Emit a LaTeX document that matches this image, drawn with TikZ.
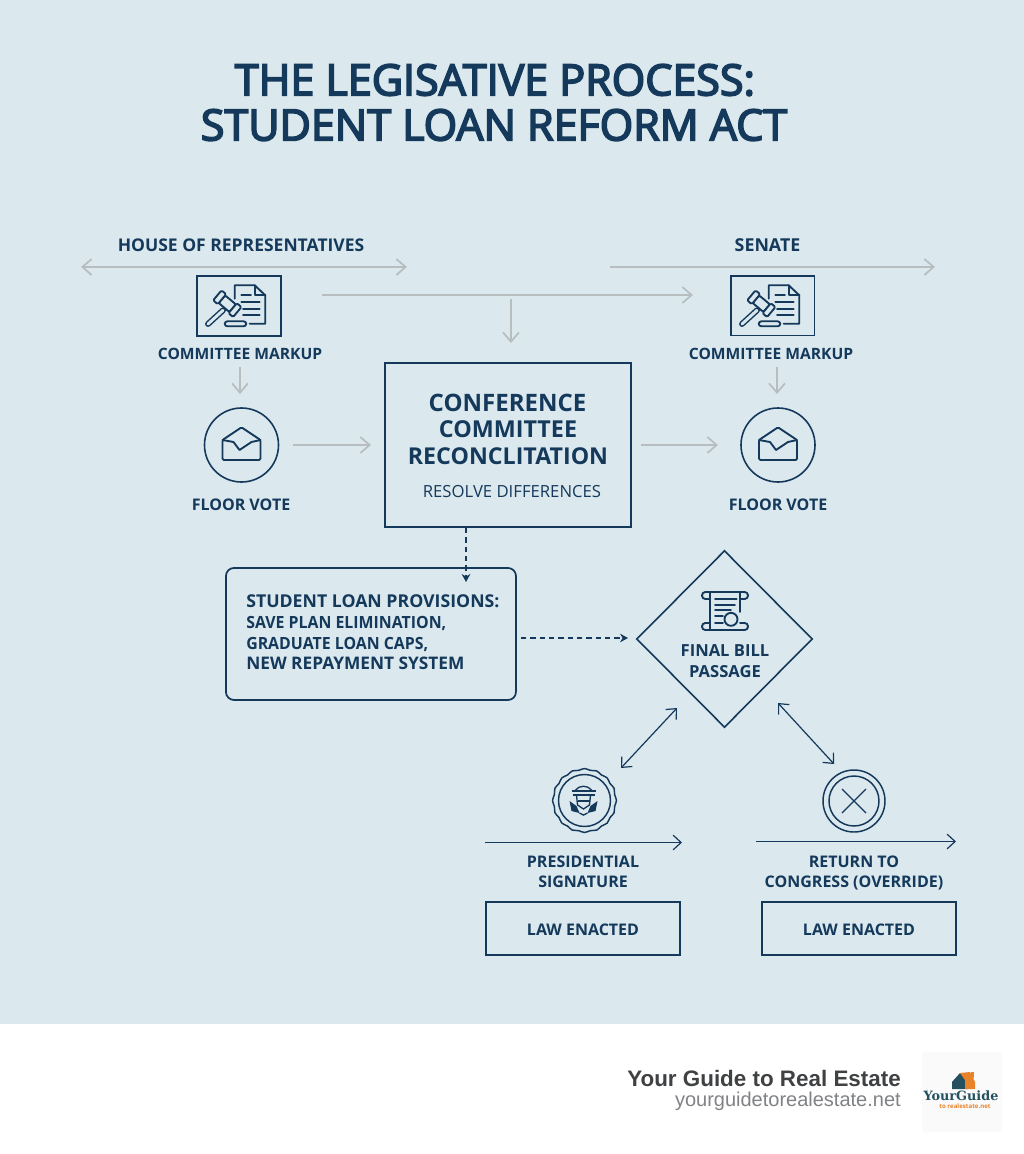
\documentclass[tikz,border=0pt]{standalone}
\usepackage{fontspec}
\usetikzlibrary{arrows.meta,shapes.geometric}
\setmainfont{Open Sans}
\newfontfamily\titlefont[FakeBold=4]{Open Sans}
\newfontfamily\footfont{Liberation Sans}
\newfontfamily\logofont{DejaVu Serif}
\definecolor{bgblue}{HTML}{DBE8EE}
\definecolor{navy}{HTML}{14395B}
\definecolor{linegray}{HTML}{B8BEC0}
\definecolor{footdark}{HTML}{3F4143}
\definecolor{footgray}{HTML}{808285}
\definecolor{logoorange}{HTML}{E8832A}
\definecolor{logonavy}{HTML}{24505F}
\newcommand{\pxfont}[1]{\fontsize{\the\dimexpr#1pt*3/4\relax}{\the\dimexpr#1pt*9/10\relax}\selectfont}
\tikzset{
 x=0.75pt,y=-0.75pt,
 icon/.style={draw=navy,line width=1.4pt,line join=round,line cap=round},
 greyarrow/.style={draw=linegray,line width=1.3pt,-{Straight Barb[length=7pt,width=12pt,line width=1.3pt]}},
 greyboth/.style={draw=linegray,line width=1.3pt,{Straight Barb[length=7pt,width=12pt,line width=1.3pt]}-{Straight Barb[length=7pt,width=12pt,line width=1.3pt]}},
 navyarrow/.style={draw=navy,line width=0.9pt,-{Straight Barb[length=6pt,width=11pt,line width=0.9pt]}},
 navyboth/.style={draw=navy,line width=0.9pt,{Straight Barb[length=6pt,width=11pt,line width=0.9pt]}-{Straight Barb[length=6pt,width=11pt,line width=0.9pt]}},
 dasharrow/.style={draw=navy,line width=0.9pt,dash pattern=on 4pt off 3pt,-{Stealth[length=6pt,width=6.5pt]}},
 label/.style={text=navy,font=\bfseries\pxfont{16},align=center,inner sep=0pt},
 wide/.style={text=navy,font=\bfseries\pxfont{#1},inner sep=0pt},
 provline/.style={text=navy,font=\bfseries\pxfont{#1},inner sep=0pt,anchor=base west},
 provnarrow/.style={text=navy,font=\bfseries\addfontfeature{FakeStretch=0.945}\pxfont{16.8},inner sep=0pt,anchor=base west},
 boxed/.style={draw=navy,line width=1.3pt,inner sep=0pt,anchor=north west},
}
\newcommand{\gavelicon}[2]{%
 \begin{scope}[shift={(#1,#2)}]
  \draw[icon] (37.7,22.7)--(37.7,9.3)--(57.7,9.3)--(68.3,19.3)--(68.3,47.7)--(52.7,47.7);
  \draw[icon] (57.7,9.3)--(57.7,19.3)--(68.3,19.3);
  \draw[icon] (44.3,19.3)--(54,19.3) (44.3,26)--(62.7,26) (46,32.7)--(62.7,32.7) (46,39.3)--(62.7,39.3);
  \draw[navy,line width=4.4pt,line cap=round] (26,34.3)--(11,48);
  \draw[bgblue,line width=2.2pt,line cap=round] (26,34.3)--(11,48);
  \begin{scope}[shift={(30.3,27.7)},rotate=-40]
   \draw[icon,fill=bgblue,rounded corners=1pt] (-7,-5)rectangle(7,5);
   \draw[icon,fill=bgblue,rounded corners=1pt] (-13,-6.5)rectangle(-7,6.5);
   \draw[icon,fill=bgblue,rounded corners=1pt] (7,-6.5)rectangle(13,6.5);
  \end{scope}
  \draw[icon,rounded corners=2pt] (27.7,45.3)rectangle(49.3,50.3);
 \end{scope}}
\newcommand{\envelopeicon}[2]{%
 \begin{scope}[shift={(#1,#2)}]
  \draw[icon,rounded corners=1pt] (-19,-5)--(0,-17.7)--(19,-5)--(19,15)--(-19,15)--cycle;
  \draw[icon] (-19,-5)--(-8,-3)--(-2,5)--(10,-3)--(19,-5);
 \end{scope}}
\begin{document}
\begin{tikzpicture}
\useasboundingbox (0,0) rectangle (1024,1154);
\fill[white] (0,0) rectangle (1024,1154);
\fill[bgblue] (0,0) rectangle (1024,1024);
% title
\node[text=navy,font=\titlefont\pxfont{43},inner sep=0pt,anchor=center] (t1) at (495,80) {THE LEGISATIVE PROCESS:};
\node[text=navy,font=\titlefont\pxfont{43},inner sep=0pt,anchor=center] (t2) at (494,125) {STUDENT LOAN REFORM ACT};
% headers
\node[wide=17.5] (house) at (241,245.5) {HOUSE OF REPRESENTATIVES};
\node[wide=17.8] (senate) at (767.5,245.5) {SENATE};
\coordinate (hl) at (81,267); \coordinate (hr) at (407,267);
\coordinate (sl) at (610,267); \coordinate (sr) at (935,267);
\draw[greyboth] (hl)--(hr);
\draw[greyarrow] (sl)--(sr);
% committee boxes
\node[boxed,minimum width=84*0.75pt,minimum height=60*0.75pt] (boxL) at (196.4,274.8) {};
\node[boxed,minimum width=83.7*0.75pt,minimum height=59.7*0.75pt] (boxR) at (729.8,274.8) {};
\gavelicon{197}{276}
\gavelicon{731}{276}
\node[wide=15.6] (cmL) at (240,354) {COMMITTEE MARKUP};
\node[wide=15.6] (cmR) at (771,354) {COMMITTEE MARKUP};
\node[circle,draw=navy,line width=1.2pt,minimum size=74*0.75pt,inner sep=0pt] (voteL) at (241.5,445) {};
\node[circle,draw=navy,line width=1.2pt,minimum size=74*0.75pt,inner sep=0pt] (voteR) at (778,445) {};
\envelopeicon{241.5}{445}
\envelopeicon{778}{445}
\node[label] (fvL) at (241,505) {FLOOR VOTE};
\node[label] (fvR) at (778,505) {FLOOR VOTE};
% center
\node[boxed,minimum width=245.4*0.75pt,minimum height=164*0.75pt] (conf) at (384.4,362.4) {};
\node[wide=24] (conf1) at (507.5,403) {CONFERENCE};
\node[wide=23.3] (conf2) at (508,429.5) {COMMITTEE};
\node[wide=23.2] (conf3) at (508,456) {RECONCLITATION};
\node[text=navy,font=\pxfont{16.7},inner sep=0pt] (res) at (512,491.5) {RESOLVE DIFFERENCES};
% gray connectors
\coordinate (c1a) at (322,295); \coordinate (c1b) at (693,295);
\draw[greyarrow] (c1a)--(c1b);
\coordinate (c2a) at (511,299); \coordinate (c2b) at (511,343);
\draw[greyarrow] (c2a)--(c2b);
\coordinate (c3a) at (240,367); \coordinate (c3b) at (240,394);
\draw[greyarrow] (c3a)--(c3b);
\coordinate (c4a) at (777,367); \coordinate (c4b) at (777,394);
\draw[greyarrow] (c4a)--(c4b);
\coordinate (c5a) at (293,445); \coordinate (c5b) at (371,445);
\draw[greyarrow] (c5a)--(c5b);
\coordinate (c6a) at (641,445); \coordinate (c6b) at (718,445);
\draw[greyarrow] (c6a)--(c6b);
% provisions
\node[draw=navy,line width=1.3pt,rounded corners=6pt,minimum width=290*0.75pt,minimum height=132*0.75pt,inner sep=0pt,anchor=north west] (prov) at (225.1,567.1) {};
\node[provline=17.7] (p1) at (246,607.5) {STUDENT LOAN PROVISIONS:};
\node[provnarrow] (p2) at (246,628) {SAVE PLAN ELIMINATION,};
\node[provnarrow] (p3) at (246,649) {GRADUATE LOAN CAPS,};
\node[provline=17.3] (p4) at (246,669.5) {NEW REPAYMENT SYSTEM};
\coordinate (d1a) at (466,528); \coordinate (d1b) at (466,582);
\draw[dasharrow] (d1a)--(d1b);
\coordinate (d2a) at (521,638); \coordinate (d2b) at (628,638);
\draw[dasharrow] (d2a)--(d2b);
% diamond
\node[diamond,draw=navy,line width=1.2pt,aspect=1,minimum width=176*0.75pt,minimum height=177*0.75pt,inner sep=0pt] (final) at (724.5,639) {};
\node[wide=16.6] (final1) at (725,651) {FINAL BILL};
\node[wide=16.6] (final2) at (725,672) {PASSAGE};
\begin{scope}[shift={(725,611)}]
 \draw[icon,rounded corners=2.5pt] (-15,-12)--(-23,-12)--(-23,-19)--(23,-19)--(23,-12)--(15,-12);
 \draw[icon,rounded corners=2.5pt] (-15,12)--(-23,12)--(-23,19)--(23,19)--(23,12)--(15,12);
 \draw[icon] (-15,-19)--(-15,19) (15,-19)--(15,1);
 \draw[icon] (-10,-11.7)--(11.7,-11.7) (-10,-6)--(10,-6) (-10,-1)--(6,-1) (-10,5)--(-2,5) (-10,12)--(-2,12);
 \draw[icon] (6,8.3) circle[radius=6.5];
\end{scope}
% double arrows
\coordinate (e1a) at (621,768); \coordinate (e1b) at (677,708);
\draw[navyboth] (e1a)--(e1b);
\coordinate (e2a) at (834,764); \coordinate (e2b) at (778,703);
\draw[navyboth] (e2a)--(e2b);
% seal
\node[star,star points=16,star point ratio=1.1,draw=navy,line width=1.1pt,rounded corners=2.5pt,minimum size=66*0.75pt,inner sep=0pt] (seal) at (584.5,800.5) {};
\node[circle,draw=navy,line width=1.1pt,minimum size=52*0.75pt,inner sep=0pt] (sealin) at (584.5,800.5) {};
\begin{scope}[shift={(583.5,800)}]
 \draw[navy,line width=1pt] (-12,-9)--(12,-9) (-11,-5)--(11,-5);
 \draw[navy,line width=1pt] (-8,-10) .. controls (-4,-15) and (4,-15) .. (8,-10);
 \draw[navy,line width=1pt] (-7,-5)--(-6,5)--(0,9)--(6,5)--(7,-5);
 \draw[navy,line width=1pt] (-6,1)--(6,1);
 \fill[navy] (-14,1)--(-7,6)--(-4,13)--(-12,11)--cycle;
 \fill[navy] (14,1)--(7,6)--(4,13)--(12,11)--cycle;
 \draw[navy,line width=1pt] (-4,13)--(0,15)--(4,13);
\end{scope}
% X
\node[circle,draw=navy,line width=1.1pt,minimum size=62*0.75pt,inner sep=0pt] (xo) at (854,801) {};
\node[circle,draw=navy,line width=1.1pt,minimum size=50*0.75pt,inner sep=0pt] (xi) at (854,801) {};
\draw[navy,line width=0.9pt] (xi.center)+(-12,-12)--+(12,12) (xi.center)+(-12,12)--+(12,-12);
% lines
\coordinate (f1a) at (485,842.5); \coordinate (f1b) at (682,842.5);
\draw[navyarrow] (f1a)--(f1b);
\coordinate (f2a) at (756,841.5); \coordinate (f2b) at (956,841.5);
\draw[navyarrow] (f2a)--(f2b);
\node[label] (pres) at (583,872) {PRESIDENTIAL\\[1pt]SIGNATURE};
\node[label] (ret) at (854,873) {RETURN TO\\[1pt]CONGRESS (OVERRIDE)};
\node[boxed,minimum width=194.3*0.75pt,minimum height=52.7*0.75pt] (lawL) at (485.1,901.4) {};
\node[boxed,minimum width=194.6*0.75pt,minimum height=52.7*0.75pt] (lawR) at (760.8,901.4) {};
\node[label] (lawLt) at (583,929.5) {LAW ENACTED};
\node[label] (lawRt) at (859,929.5) {LAW ENACTED};
% footer
\node[text=footdark,font=\footfont\bfseries\pxfont{22.4},inner sep=0pt,anchor=east] (brand) at (901,1078) {Your Guide to Real Estate};
\node[text=footgray,font=\footfont\pxfont{20},inner sep=0pt,anchor=east] (url) at (901,1101) {yourguidetorealestate.net};
% logo
\fill[black!2,rounded corners=3pt] (922,1052) rectangle (1002,1132);
\fill[logonavy] (952,1082)--(960,1073)--(968,1082)--(968,1089)--(952,1089)--cycle;
\fill[logoorange] (960,1073)--(970,1072)--(975,1082)--(975,1089)--(965,1089)--(965,1080)--cycle;
\fill[logoorange] (971,1072) rectangle (974,1078);
\node[text=logonavy,font=\logofont\bfseries\pxfont{12.8},inner sep=0pt] (logoa) at (961,1096) {YourGuide};
\node[text=logoorange,font=\bfseries\pxfont{6.1},inner sep=0pt] (logob) at (965,1106.5) {to realestate.net};
\end{tikzpicture}
\end{document}
